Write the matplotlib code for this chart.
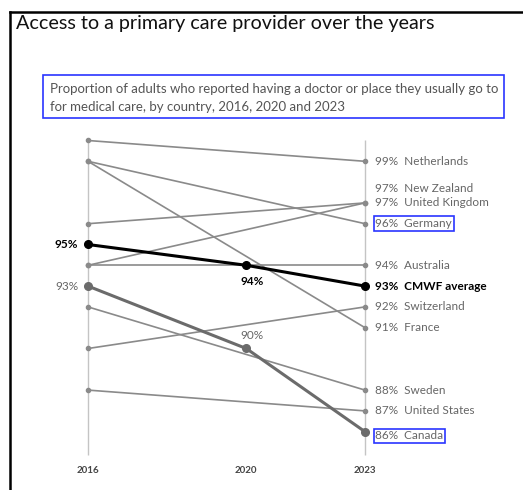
import matplotlib
matplotlib.use("Agg")
import matplotlib.pyplot as plt
from matplotlib.lines import Line2D
from matplotlib.patches import Rectangle
from matplotlib import transforms

plt.rcParams['font.family'] = ['Lato', 'DejaVu Sans']

# data
countries = ['Netherlands', 'New Zealand', 'United Kingdom', 'Germany', 'Australia',
             'CMWF average', 'Switzerland', 'France', 'Sweden', 'United States', 'Canada']
v2016 = [100, 96, 94, 99, 94, 95, 90, 99, 92, 88, 93]
v2023 = [99, 97, 97, 96, 94, 93, 92, 91, 88, 87, 86]
v2020 = {'CMWF average': 94, 'Canada': 90}
years = [2016, 2020, 2023]
boxed = ['Germany', 'Canada']

W, H = 523, 490
fig = plt.figure(figsize=(W / 100, H / 100), dpi=100)
ax = fig.add_axes([0, 0, 1, 1])
ax.set_axis_off()

# pixel layout -> data limits
x0_px, x1_px = 88, 365
y_hi_px, y_lo_px = 161.3, 431.7  # 99% and 86%
pxy = (x1_px - x0_px) / (years[-1] - years[0])
pyy = (y_lo_px - y_hi_px) / 13
ax.set_xlim(years[0] - x0_px / pxy, years[0] + (W - x0_px) / pxy)
ax.set_ylim(86 - (H - y_lo_px) / pyy, 86 + y_lo_px / pyy)

def px(x, y):
    return x / W, 1 - y / H

GRAY = '#8a8a8a'
DARK = '#6b6b6b'
BLUE = '#2a35ff'

# vertical guides
ax.vlines([years[0], years[-1]], min(v2023) - 1.1, max(v2016), color='#c4c4c4', lw=1, zorder=0)

for c, a, b in zip(countries, v2016, v2023):
    if c in v2020:
        xs = years
        ys = [a, v2020[c], b]
    else:
        xs = [years[0], years[-1]]
        ys = [a, b]
    if c == 'CMWF average':
        ax.plot(xs, ys, color='black', lw=2.2, marker='o', ms=5.5, zorder=5)
    elif c == 'Canada':
        ax.plot(xs, ys, color=DARK, lw=2.2, marker='o', ms=5.5, zorder=4)
    else:
        ax.plot(xs, ys, color=GRAY, lw=1.2, marker='o', ms=3, zorder=2)

# right-hand labels
nudge = {'New Zealand': 10.5, 'Canada': -3}
for c, b in zip(countries, v2023):
    bold = c == 'CMWF average'
    kw = dict(fontsize=8.5, va='center', ha='left',
              color='black' if bold else '#666666',
              fontweight='bold' if bold else 'normal')
    if c in boxed:
        kw['bbox'] = dict(boxstyle='square,pad=0.15', fc='none', ec=BLUE, lw=1.2)
    ax.annotate(f"{b}%  {c}", (years[-1], b), xytext=(7.5, nudge.get(c, 0)),
                textcoords='offset points', **kw)

# left and middle labels
i_avg = countries.index('CMWF average')
i_can = countries.index('Canada')
ax.annotate(f"{v2016[i_avg]}%", (years[0], v2016[i_avg]), xytext=(-7, 0), textcoords='offset points',
            ha='right', va='center', fontsize=8.5, fontweight='bold', color='black')
ax.annotate(f"{v2016[i_can]}%", (years[0], v2016[i_can]), xytext=(-7, 0), textcoords='offset points',
            ha='right', va='center', fontsize=8.5, color='#666666')
ax.annotate(f"{v2020['CMWF average']}%", (years[1], v2020['CMWF average']), xytext=(4, -12),
            textcoords='offset points', ha='center', va='center', fontsize=8.5,
            fontweight='bold', color='black')
ax.annotate(f"{v2020['Canada']}%", (years[1], v2020['Canada']), xytext=(4, 9),
            textcoords='offset points', ha='center', va='center', fontsize=8.5, color='#666666')

# year labels
trans = transforms.blended_transform_factory(ax.transData, ax.transAxes)
for y in years:
    ax.text(y, 1 - 470 / H, str(y), transform=trans, ha='center', va='center',
            fontsize=7, fontweight='bold', color='#444444')

# title, subtitle, frame
fig.text(*px(16, 24), "Access to a primary care provider over the years", fontsize=14.2,
         color='#111111', va='center', ha='left')
fig.text(*px(50, 98), "Proportion of adults who reported having a doctor or place they usually go to\n"
         "for medical care, by country, 2016, 2020 and 2023", fontsize=9.5, color='#555555',
         va='center', ha='left', linespacing=1.65)
fig.add_artist(Rectangle(px(43, 118), 461 / W, 43 / H, transform=fig.transFigure,
                         fill=False, ec=BLUE, lw=1.2))
fig.add_artist(Line2D([9.5 / W, 1], [1 - 12.5 / H] * 2, transform=fig.transFigure, color='black', lw=1.8))
fig.add_artist(Line2D([9.5 / W] * 2, [0, 1 - 12.5 / H], transform=fig.transFigure, color='black', lw=1.8))

fig.savefig('out.png', dpi=100)
